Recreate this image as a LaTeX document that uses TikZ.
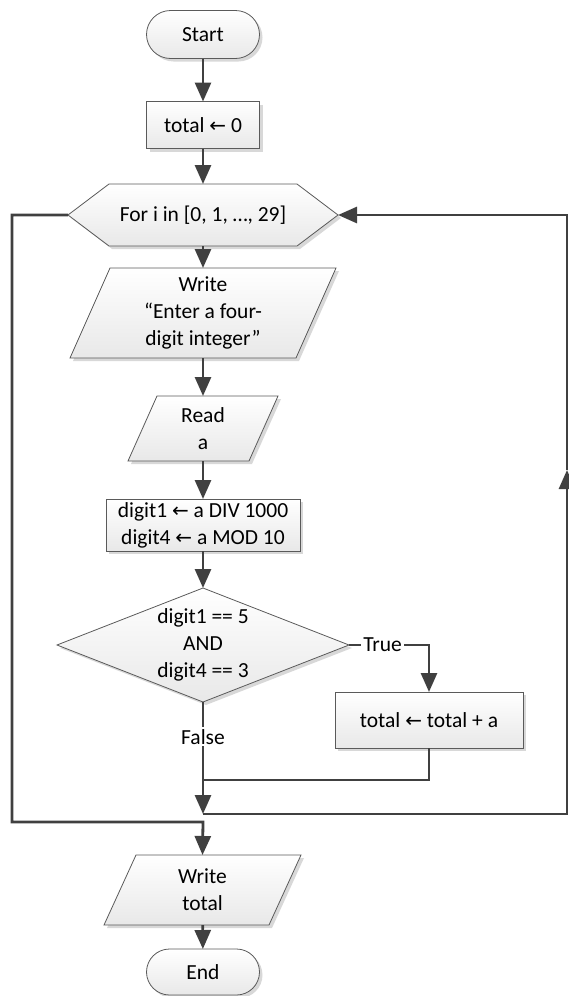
\documentclass[tikz,border=0pt]{standalone}
\usepackage{fontspec}
\setmainfont{Carlito}
\newfontfamily\arrowfont{DejaVu Sans}
\usetikzlibrary{arrows.meta,shapes.misc,shadows}
\pgfdeclarelayer{bg}
\pgfsetlayers{bg,main}
\definecolor{ln}{HTML}{404040}
\definecolor{bd}{HTML}{5A5A5A}
\newcommand{\la}{{\arrowfont\fontsize{20}{20}\selectfont ←}}
\tikzset{
  shp/.style={draw=bd, line width=0.8pt, top color=white, bottom color=black!9,
    drop shadow={shadow xshift=3pt, shadow yshift=-3pt, fill=black!30, opacity=0.5}},
  txt/.style={align=center, inner sep=0pt, outer sep=0pt, font=\fontsize{21.5}{27}\selectfont},
  term/.style={txt, shp, rounded rectangle, minimum width=113pt, minimum height=48pt},
  proc/.style={txt, shp, rectangle},
  ghost/.style={txt, rectangle},
  flow/.style={draw=ln, line width=2.8pt, -{Triangle[length=19pt,width=16pt]}},
  link/.style={draw=ln, line width=2.8pt},
  lbl/.style={font=\fontsize{21.5}{24}\selectfont, fill=white, inner sep=2pt},
}
\begin{document}
\begin{tikzpicture}[x=1pt,y=-1pt]
\useasboundingbox (0,0) rectangle (569,996);
% nodes
\node[term] (start) at (203,34.5) {Start};
\node[proc, minimum width=113pt, minimum height=47pt] (init) at (203,125) {total \la{} 0};
\node[ghost, minimum width=270pt, minimum height=62pt] (loop) at (203,215) {For i in [0, 1, …, 29]};
\node[ghost, minimum width=266pt, minimum height=90pt] (wr) at (203,313) {Write\\“Enter a four-\\digit integer”};
\node[ghost, minimum width=150pt, minimum height=65pt] (rd) at (203,428.5) {Read\\a};
\node[proc, minimum width=194pt, minimum height=52pt] (calc) at (203,525) {digit1 \la{} a DIV 1000\\digit4 \la{} a MOD 10};
\node[ghost, minimum width=292pt, minimum height=114pt] (dec) at (203,645) {digit1 == 5\\AND\\digit4 == 3};
\node[proc, minimum width=188pt, minimum height=56pt] (tot) at (429,720) {total \la{} total + a};
\node[ghost, minimum width=197pt, minimum height=70pt] (wt) at (202.5,890) {Write\\total};
\node[term, minimum height=46pt] (end) at (203,972) {End};
% shapes behind text
\begin{pgfonlayer}{bg}
\path[shp] (loop.west) -- ([xshift=41pt]loop.north west) -- ([xshift=-41pt]loop.north east)
  -- (loop.east) -- ([xshift=-41pt]loop.south east) -- ([xshift=41pt]loop.south west) -- cycle;
\path[shp] (wr.south west) -- ([xshift=40pt]wr.north west) -- (wr.north east) -- ([xshift=-40pt]wr.south east) -- cycle;
\path[shp] (rd.south west) -- ([xshift=29pt]rd.north west) -- (rd.north east) -- ([xshift=-29pt]rd.south east) -- cycle;
\path[shp] (dec.west) -- (dec.north) -- (dec.east) -- (dec.south) -- cycle;
\path[shp] (wt.south west) -- ([xshift=32pt]wt.north west) -- (wt.north east) -- ([xshift=-32pt]wt.south east) -- cycle;
\end{pgfonlayer}
% helper coordinates
\coordinate (m) at (203,780);
\coordinate (j) at (203,814);
\coordinate (r1) at (567,814);
\coordinate (rm) at (567,470);
\coordinate (r2) at (567,215);
\coordinate (l1) at (12,215);
\coordinate (l2) at (12,822);
\coordinate (l3) at (203,822);
% connectors
\draw[flow] (start) -- (init);
\draw[flow] (init) -- (loop);
\draw[flow] (loop) -- (wr);
\draw[flow] (wr) -- (rd);
\draw[flow] (rd) -- (calc);
\draw[flow] (calc) -- (dec);
\draw[flow] (dec.east) -- node[lbl, pos=0.42] {True} (dec.east -| tot.north) -- (tot.north);
\draw[flow] (dec.south) -- node[lbl, pos=0.31] {False} (j);
\draw[link] (tot.south) |- (m);
\draw[flow] (j) -- (r1) -- (rm);
\draw[flow] (rm) -- (r2) -- (loop.east);
\draw[flow] (loop.west) -- (l1) -- (l2) -- (l3) -- (wt.north);
\draw[flow] (wt) -- (end);
\end{tikzpicture}
\end{document}
